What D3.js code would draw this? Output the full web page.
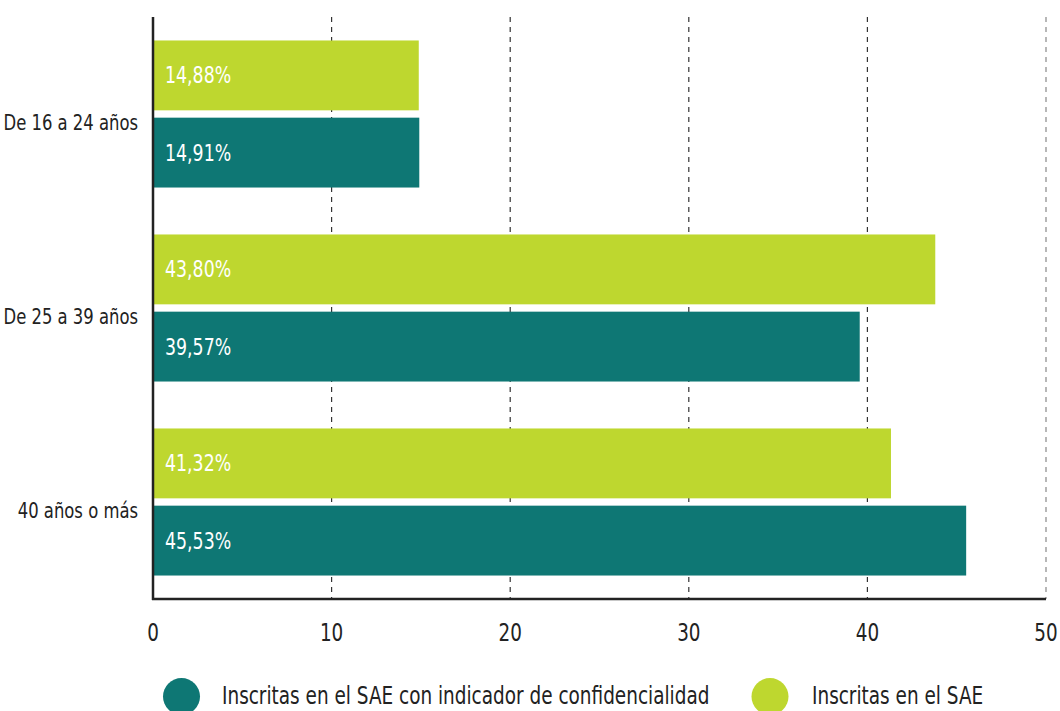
<!DOCTYPE html>
<html><head><meta charset="utf-8">
<script src="https://cdn.jsdelivr.net/npm/d3@7"></script>
<style>
html,body{margin:0;padding:0;background:#fff;}
svg{display:block;}
text{font-family:"DejaVu Sans Condensed","DejaVu Sans","Roboto",sans-serif;}
</style></head>
<body>
<svg id="chart" width="1060" height="711"></svg>
<script>
const categories = ["De 16 a 24 años", "De 25 a 39 años", "40 años o más"];
const seriesNames = ["Inscritas en el SAE", "Inscritas en el SAE con indicador de confidencialidad"];
const valuesSAE = [14.88, 43.80, 41.32];
const valuesConf = [14.91, 39.57, 45.53];
const labelsSAE = ["14,88%", "43,80%", "41,32%"];
const labelsConf = ["14,91%", "39,57%", "45,53%"];
const xTicks = [0, 10, 20, 30, 40, 50];
const colors = {"Inscritas en el SAE": "#bed72f", "Inscritas en el SAE con indicador de confidencialidad": "#0e7774"};

const svg = d3.select("#chart");
const mLeft = 153, mRight = 1046, mTop = 17, mBottom = 599;

const x = d3.scaleLinear().domain([0, 50]).range([mLeft, mRight]);
const y = d3.scaleBand().domain(categories).range([mTop, mBottom]).paddingInner(0.242).paddingOuter(0.121);
const ySub = d3.scaleBand().domain(seriesNames).range([0, y.bandwidth()]).paddingInner(0.095);

// place a text with horizontal compression (narrow typeface look)
function place(sel, fx, fy, sx) {
  sel.attr("transform", (d, i) => `translate(${fx(d, i)},${fy(d, i)}) scale(${sx},1)`);
}

// gridlines
svg.append("g").selectAll("line").data(xTicks.filter(d => d > 0)).join("line")
  .attr("x1", d => x(d)).attr("x2", d => x(d))
  .attr("y1", mTop).attr("y2", mBottom)
  .attr("stroke", (d) => d === 50 ? "#888" : "#333")
  .attr("stroke-width", 1.2)
  .attr("stroke-dasharray", "5,5");

const data = [];
categories.forEach((c, i) => {
  data.push({cat: c, s: seriesNames[0], v: valuesSAE[i], lab: labelsSAE[i]});
  data.push({cat: c, s: seriesNames[1], v: valuesConf[i], lab: labelsConf[i]});
});

svg.append("g").selectAll("rect").data(data).join("rect")
  .attr("x", x(0))
  .attr("y", d => y(d.cat) + ySub(d.s))
  .attr("width", d => x(d.v) - x(0))
  .attr("height", ySub.bandwidth())
  .attr("fill", d => colors[d.s]);

const vl = svg.append("g").selectAll("text").data(data).join("text")
  .attr("dy", "0.35em")
  .attr("fill", "#fff")
  .attr("font-size", 23)
  .text(d => d.lab);
place(vl, () => x(0) + 12, d => y(d.cat) + ySub(d.s) + ySub.bandwidth() / 2, 0.84);

// axes lines
svg.append("line").attr("x1", x(0)).attr("x2", x(0)).attr("y1", mTop).attr("y2", mBottom + 1)
  .attr("stroke", "#222").attr("stroke-width", 2.5);
svg.append("line").attr("x1", x(0) - 1).attr("x2", x(50)).attr("y1", mBottom).attr("y2", mBottom)
  .attr("stroke", "#222").attr("stroke-width", 2.5);

// x tick labels
const tl = svg.append("g").selectAll("text").data(xTicks).join("text")
  .attr("text-anchor", "middle")
  .attr("fill", "#222").attr("font-size", 24)
  .text(d => d);
place(tl, d => x(d), () => 641, 0.85);

// category labels
const cl = svg.append("g").selectAll("text").data(categories).join("text")
  .attr("text-anchor", "end")
  .attr("fill", "#222").attr("font-size", 22)
  .text(d => d);
place(cl, () => 138, d => y(d) + y.bandwidth() / 2 + 15.5, 0.83);

// legend
const legendItems = [
  {name: seriesNames[1], cx: 181.5, tx: 222},
  {name: seriesNames[0], cx: 770, tx: 812}
];
const lg = svg.append("g");
lg.selectAll("circle").data(legendItems).join("circle")
  .attr("cx", d => d.cx).attr("cy", 696.5).attr("r", 18.5)
  .attr("fill", d => colors[d.name]);
const lt = lg.selectAll("text").data(legendItems).join("text")
  .attr("fill", "#222").attr("font-size", 25)
  .text(d => d.name);
place(lt, d => d.tx, () => 704, 0.82);
</script>
</body></html>
